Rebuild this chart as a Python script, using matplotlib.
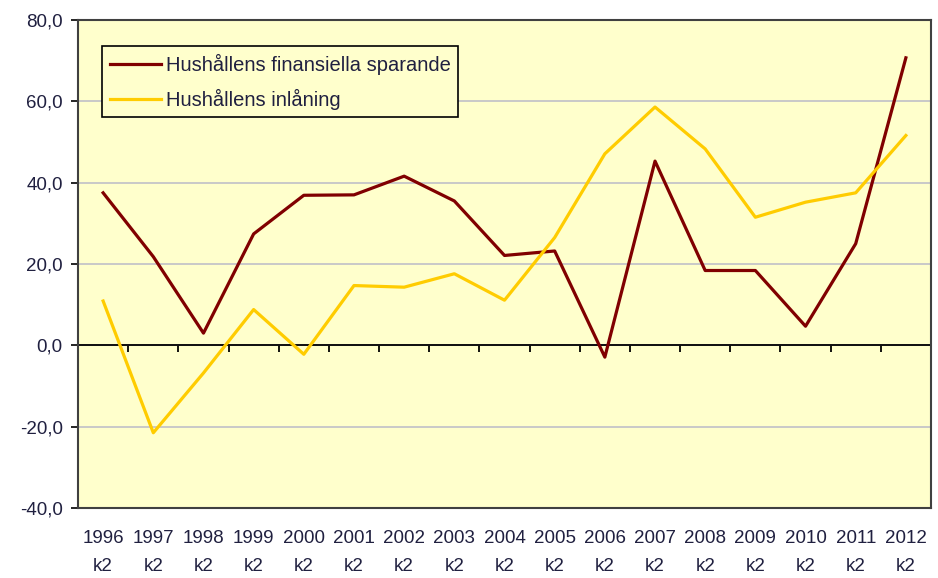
import numpy as np
import matplotlib
matplotlib.use("Agg")
import matplotlib.pyplot as plt
from matplotlib.ticker import FuncFormatter

years = ["1996", "1997", "1998", "1999", "2000", "2001", "2002", "2003", "2004",
         "2005", "2006", "2007", "2008", "2009", "2010", "2011", "2012"]
quarter = "k2"
sparande = [37.5, 21.8, 3.0, 27.4, 36.9, 37.0, 41.6, 35.5, 22.1,
            23.2, -2.9, 45.3, 18.4, 18.4, 4.7, 25.0, 70.7]
inlaning = [10.9, -21.5, -6.8, 8.8, -2.2, 14.7, 14.3, 17.6, 11.1,
            26.5, 47.1, 58.6, 48.3, 31.5, 35.2, 37.5, 51.6]
label_sparande = "Hushållens finansiella sparande"
label_inlaning = "Hushållens inlåning"

plt.rcParams['font.family'] = ['Liberation Sans', 'DejaVu Sans']
txt_color = '#202040'
bg = '#FFFFCC'

fig = plt.figure(figsize=(9.38, 5.78), dpi=100)
ax = fig.add_axes([0.0832, 0.1211, 0.9093, 0.8443])
ax.set_facecolor(bg)

x = np.arange(len(years))
ax.plot(x, sparande, color='#800000', linewidth=2.3, label=label_sparande, zorder=3)
ax.plot(x, inlaning, color='#FFCC00', linewidth=2.3, label=label_inlaning, zorder=3)

ax.set_xlim(-0.5, len(years) - 0.5)
ax.set_ylim(-40, 80)
ax.set_yticks(np.arange(-40, 81, 20))
ax.yaxis.set_major_formatter(FuncFormatter(lambda v, p: f"{v:.1f}".replace('.', ',')))
ax.grid(axis='y', color='#C0C0C8', linewidth=1.2, zorder=1)
ax.axhline(0, color='black', linewidth=1.3, zorder=2)

ax.set_xticks(x)
ax.set_xticklabels([f"{y}\n{quarter}" for y in years], linespacing=1.8)
ax.tick_params(axis='x', length=0, pad=16, labelsize=13.5, labelcolor=txt_color)
ax.tick_params(axis='y', length=5, width=1.2, direction='out', pad=6,
               labelsize=13.5, labelcolor=txt_color)

# tick marks between categories on the zero line
sec = ax.secondary_xaxis(1 / 3)
sec.set_xticks(np.arange(0.5, len(years) - 1, 1.0))
sec.tick_params(length=5, width=1.3, direction='out', labelbottom=False)
sec.spines['bottom'].set_visible(False)

for s in ax.spines.values():
    s.set_color('#404040')
    s.set_linewidth(1.5)

leg = ax.legend(loc='upper left', bbox_to_anchor=(0.028, 0.947), fontsize=14.5,
                frameon=True, fancybox=False, edgecolor='black', facecolor=bg,
                framealpha=1, handlelength=2.55, handletextpad=0.25,
                labelspacing=0.7, borderpad=0.38, borderaxespad=0)
leg.get_frame().set_linewidth(1.2)
for t in leg.get_texts():
    t.set_color(txt_color)

fig.savefig("out.png", dpi=100)
